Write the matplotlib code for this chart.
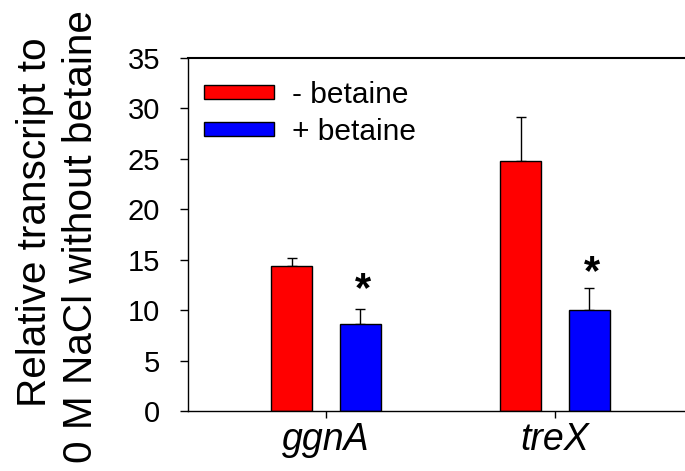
import matplotlib
matplotlib.use("Agg")
import matplotlib.pyplot as plt
import numpy as np

plt.rcParams['font.family'] = ['Liberation Sans', 'DejaVu Sans']

genes = ["ggnA", "treX"]
minus_betaine = [14.4, 24.8]
minus_err = [0.75, 4.3]
plus_betaine = [8.6, 10.0]
plus_err = [1.5, 2.15]
star_y = [12.0, 13.7]
yticks = [0, 5, 10, 15, 20, 25, 30, 35]
ylabel_lines = ["Relative transcript to", "0 M NaCl without betaine"]

W, H = 685, 471
fig = plt.figure(figsize=(W / 100, H / 100), dpi=100)
ax = fig.add_axes([0.2745, 0.1274, 0.7255, 0.7495])

x = np.arange(len(genes))
off = 0.15
w = 0.18
ax.bar(x - off, minus_betaine, w, color='#ff0000', edgecolor='black', linewidth=1.0,
       label='- betaine', zorder=2)
ax.bar(x + off, plus_betaine, w, color='#0000ff', edgecolor='black', linewidth=1.0,
       label='+ betaine', zorder=2)
ax.errorbar(x - off, minus_betaine, yerr=[np.zeros(2), minus_err], fmt='none',
            ecolor='black', elinewidth=1.0, capsize=3.6, capthick=1.0, zorder=1)
ax.errorbar(x + off, plus_betaine, yerr=[np.zeros(2), plus_err], fmt='none',
            ecolor='black', elinewidth=1.0, capsize=3.6, capthick=1.0, zorder=1)

for xi, yi in zip(x + off, star_y):
    ax.text(xi + 0.01, yi, '*', ha='center', va='center', fontsize=30,
            fontweight='bold')

ax.set_xlim(-0.603, 1.568)
ax.set_ylim(0, 35)
ax.set_yticks(yticks)
ax.set_yticklabels([str(t) for t in yticks], fontsize=21)
ax.set_xticks(x)
ax.set_xticklabels(genes, fontsize=27, fontstyle='italic')
ax.tick_params(axis='y', direction='out', length=6, width=1, pad=14)
ax.tick_params(axis='x', direction='out', length=5, width=1, pad=3)

ax.spines['right'].set_visible(False)
ax.spines['top'].set_linewidth(1.5)
ax.spines['left'].set_linewidth(1.0)
ax.spines['bottom'].set_linewidth(1.0)

# two-line y label, placed as in the reference
fig.text(46.5 / W, 1 - 222.5 / H, ylabel_lines[0], rotation=90, fontsize=29.2,
         ha='center', va='baseline', rotation_mode='anchor')
fig.text(92.5 / W, 1 - 236.5 / H, ylabel_lines[1], rotation=90, fontsize=29.2,
         ha='center', va='baseline', rotation_mode='anchor')

leg = ax.legend(loc='upper left', bbox_to_anchor=(0.032, 0.935), frameon=False,
                fontsize=21.5, handlelength=2.34, handleheight=0.36,
                handletextpad=0.6, labelspacing=0.29, borderaxespad=0.0,
                borderpad=0.0)

fig.savefig("out.png", dpi=100)
